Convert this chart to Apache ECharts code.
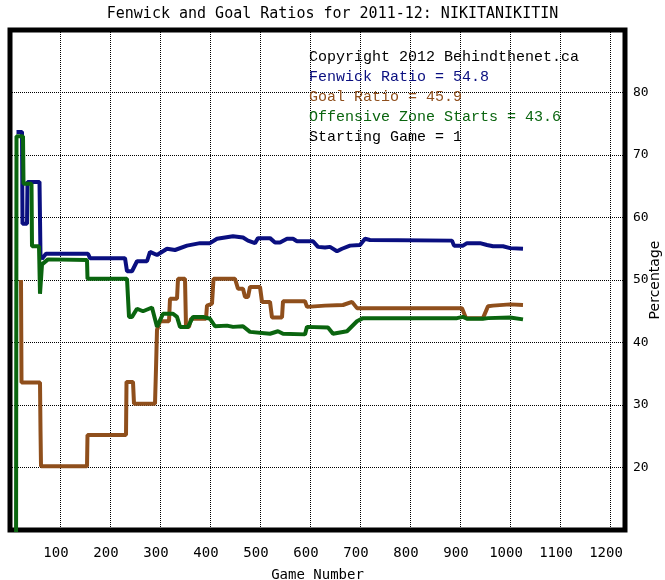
<!DOCTYPE html>
<html>
<head>
<meta charset="utf-8">
<script src="https://cdn.jsdelivr.net/npm/echarts@6/dist/echarts.min.js"></script>
<style>
html,body{margin:0;padding:0;background:#fff;}
#chart{width:665px;height:580px;}
</style>
</head>
<body>
<div id="chart"></div>
<script>
var titleText = 'Fenwick and Goal Ratios for 2011-12: NIKITANIKITIN';
var xAxisName = 'Game Number';
var yAxisName = 'Percentage';
var infoLines = ['Copyright 2012 Behindthenet.ca', 'Fenwick Ratio = 54.8', 'Goal Ratio = 45.9', 'Offensive Zone Starts = 43.6', 'Starting Game = 1'];
var seriesNames = ['Fenwick Ratio', 'Goal Ratio', 'Offensive Zone Starts'];

var fenwick = [[13,73.7],[24,73.7],[25,59],[34,59],[35,65.7],[59,65.7],[61,53.8],[64,53.4],[68,53.8],[72,54.2],[100,54.2],[156,54.2],[160,53.5],[230,53.5],[234,51.4],[244,51.4],[254,53],[274,53],[280,54.5],[294,54],[314,55],[330,54.8],[354,55.5],[380,55.9],[400,55.9],[414,56.6],[446,57],[466,56.8],[476,56.3],[490,55.9],[496,56.7],[520,56.7],[530,56],[540,56],[554,56.6],[566,56.6],[574,56.2],[606,56.2],[616,55.3],[630,55.2],[640,55.3],[654,54.6],[664,55],[680,55.5],[700,55.6],[710,56.6],[720,56.4],[884,56.3],[888,55.5],[906,55.5],[914,55.9],[940,55.9],[954,55.6],[966,55.4],[986,55.4],[1000,55.1],[1026,55.0]];

var goal = [[22,50],[23,33.6],[60,33.6],[61,26],[62,20.2],[154,20.2],[155,25.2],[232,25.2],[233,33.7],[246,33.7],[248,30.2],[290,30.2],[292,35.8],[294,42],[300,43.4],[318,43.4],[320,47],[334,47],[336,50.2],[350,50.2],[352,42.5],[358,42.5],[362,43.8],[392,43.8],[394,45.9],[404,46.2],[407,50.2],[450,50.2],[456,48.6],[466,48.6],[470,47.3],[476,47.3],[480,48.9],[500,48.9],[504,46.5],[520,46.5],[524,44],[544,44],[546,46.6],[590,46.6],[594,45.7],[630,45.9],[666,46],[684,46.5],[694,45.5],[904,45.5],[912,43.9],[946,43.9],[956,45.8],[966,45.9],[1000,46.1],[1026,46.0]];

var ozStarts = [[12,0],[13,73],[26,73],[27,65.4],[43,65.4],[44,55.4],[58,55.4],[60,47.8],[64,52.5],[70,52.9],[76,53.3],[154,53.2],[155,50.2],[234,50.2],[238,44.1],[244,44.1],[254,45.4],[266,45],[284,45.6],[294,42.5],[306,44.6],[326,44.6],[334,44.1],[340,42.5],[356,42.5],[366,44.1],[386,44.1],[400,43.8],[410,42.6],[434,42.7],[446,42.5],[466,42.6],[480,41.7],[520,41.4],[536,41.8],[546,41.4],[590,41.3],[594,42.5],[636,42.4],[646,41.4],[674,41.8],[694,43.4],[706,43.9],[894,43.9],[898,44.1],[906,44.1],[914,43.8],[946,43.8],[956,43.9],[1000,44],[1026,43.7]];

var colors = ['#0a0f80', '#8f4f1c', '#0a650f'];
var infoColors = ['#000000', colors[0], colors[1], colors[2], '#000000'];

var chart = echarts.init(document.getElementById('chart'), null, {renderer: 'canvas'});

var infoGraphics = infoLines.map(function (t, i) {
  return {
    type: 'text', left: 309, top: 50 + i * 20, z: 100,
    style: {text: t, fill: infoColors[i], font: '15px "Liberation Mono"'}
  };
});

var dotted = {color: '#000', width: 1, type: [1, 1]};

chart.setOption({
  animation: false,
  backgroundColor: '#fff',
  title: {
    text: titleText, left: 'center', top: 2,
    textStyle: {fontFamily: 'DejaVu Sans Mono', fontSize: 15, fontWeight: 'normal', color: '#000'}
  },
  grid: {left: 10, right: 40, top: 30, bottom: 50, show: true, borderColor: '#000', borderWidth: 5, backgroundColor: 'transparent', containLabel: false, outerBoundsMode: 'none'},
  xAxis: {
    type: 'value', min: 0, max: 1230, interval: 100,
    name: xAxisName, nameLocation: 'middle', nameGap: 38, nameMoveOverlap: false,
    nameTextStyle: {fontFamily: 'DejaVu Sans Mono', fontSize: 14, color: '#000'},
    axisLine: {show: false}, axisTick: {show: false},
    axisLabel: {color: '#000', fontFamily: 'DejaVu Sans Mono', fontSize: 14, margin: 16, padding: [0, 8, 0, 0],
      formatter: function (v) { return (v >= 100 && v <= 1200) ? String(v) : ''; }},
    splitLine: {show: true, lineStyle: dotted}
  },
  yAxis: {
    type: 'value', position: 'right', min: 10, max: 90, interval: 10,
    name: yAxisName, nameLocation: 'middle', nameGap: 23, nameRotate: 90, nameMoveOverlap: false,
    nameTextStyle: {fontFamily: 'DejaVu Sans', fontSize: 14, color: '#000'},
    axisLine: {show: false}, axisTick: {show: false},
    axisLabel: {color: '#000', fontFamily: 'DejaVu Sans Mono', fontSize: 13, margin: 8,
      formatter: function (v) { return (v >= 20 && v <= 80) ? String(v) : ''; }},
    splitLine: {show: true, lineStyle: dotted}
  },
  graphic: infoGraphics,
  series: [
    {name: seriesNames[0], type: 'line', data: fenwick, showSymbol: false, symbol: 'none', lineStyle: {color: colors[0], width: 4}, z: 3},
    {name: seriesNames[1], type: 'line', data: goal, showSymbol: false, symbol: 'none', lineStyle: {color: colors[1], width: 4}, z: 4},
    {name: seriesNames[2], type: 'line', data: ozStarts, showSymbol: false, symbol: 'none', lineStyle: {color: colors[2], width: 4}, z: 5}
  ]
});
</script>
</body>
</html>
